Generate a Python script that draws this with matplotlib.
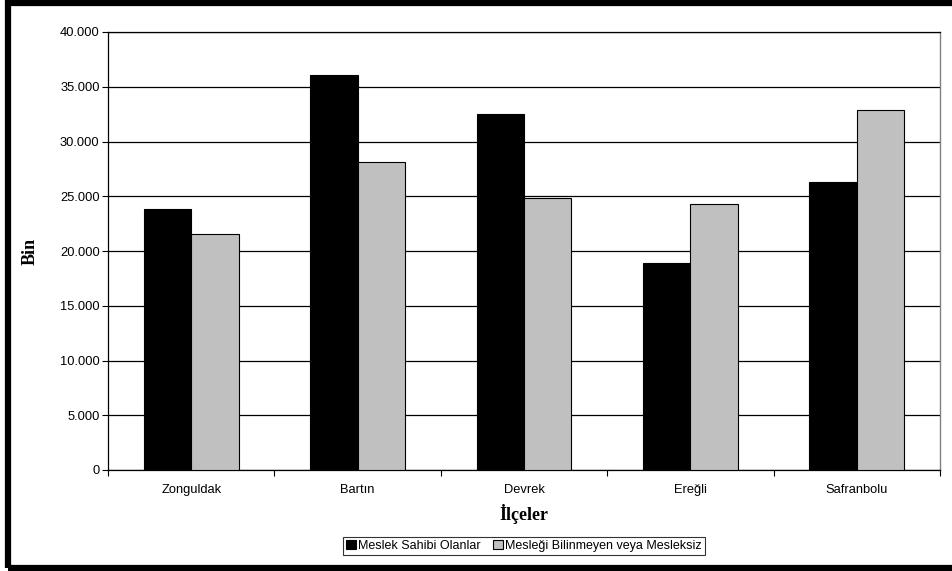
import matplotlib
matplotlib.use("Agg")
import matplotlib.pyplot as plt
from matplotlib.patches import Rectangle
import numpy as np

categories = ["Zonguldak", "Bartın", "Devrek", "Ereğli", "Safranbolu"]
meslek_sahibi = [23800, 36100, 32500, 18900, 26300]
bilinmeyen = [21550, 28100, 24850, 24300, 32850]
series_labels = ["Meslek Sahibi Olanlar", "Mesleği Bilinmeyen veya Mesleksiz"]
yticks = np.arange(0, 40001, 5000)
ytick_labels = ["0", "5.000", "10.000", "15.000", "20.000", "25.000", "30.000", "35.000", "40.000"]

plt.rcParams['font.family'] = ['Liberation Sans', 'DejaVu Sans']

W, H = 952, 571
fig = plt.figure(figsize=(W / 100, H / 100), dpi=100)
ax = fig.add_axes([108 / W, 1 - 470 / H, (940 - 108) / W, (470 - 32) / H])

x = np.arange(len(categories))
bw = 0.285
ax.bar(x - bw / 2, meslek_sahibi, bw, color="black", edgecolor="black", linewidth=0.8,
       label=series_labels[0], zorder=3)
ax.bar(x + bw / 2, bilinmeyen, bw, color="#C0C0C0", edgecolor="black", linewidth=0.8,
       label=series_labels[1], zorder=3)

ax.set_xlim(-0.5, len(categories) - 0.5)
ax.set_ylim(0, 40000)
ax.set_yticks(yticks)
ax.set_yticklabels(ytick_labels, fontsize=9.3)
ax.yaxis.grid(True, color="black", linewidth=0.9, zorder=0)
ax.set_axisbelow(True)

ax.set_xticks(x)
ax.set_xticklabels(categories, fontsize=9.3)
ax.tick_params(axis="x", length=0, pad=10)
ax.set_xticks(np.arange(-0.5, len(categories), 1), minor=True)
ax.tick_params(axis="x", which="minor", length=4, width=0.8, direction="out")
ax.tick_params(axis="y", length=4, width=0.8, direction="out", pad=2)

for s in ["left", "bottom", "top"]:
    ax.spines[s].set_color("black")
    ax.spines[s].set_linewidth(0.9)
ax.spines["right"].set_color("#808080")
ax.spines["right"].set_linewidth(1.0)

ax.set_ylabel("Bin", fontsize=13, fontweight="bold", family="Liberation Serif", labelpad=15)
ax.set_xlabel("İlçeler", fontsize=13, fontweight="bold", family="Liberation Serif", labelpad=6)

leg = fig.legend(loc="center", bbox_to_anchor=(524 / W, 1 - 546 / H), ncol=2, fontsize=9,
                 frameon=True, fancybox=False, edgecolor="black", handlelength=0.75,
                 handleheight=0.75, handletextpad=0.2, columnspacing=1.0, borderpad=0.25,
                 borderaxespad=0)
leg.get_frame().set_linewidth(0.8)

border = Rectangle((8, 3), 970, H - 6, transform=None, fill=False, edgecolor="black",
                   linewidth=4.5, clip_on=False)
fig.patches.append(border)

fig.savefig("out.png", dpi=100)
